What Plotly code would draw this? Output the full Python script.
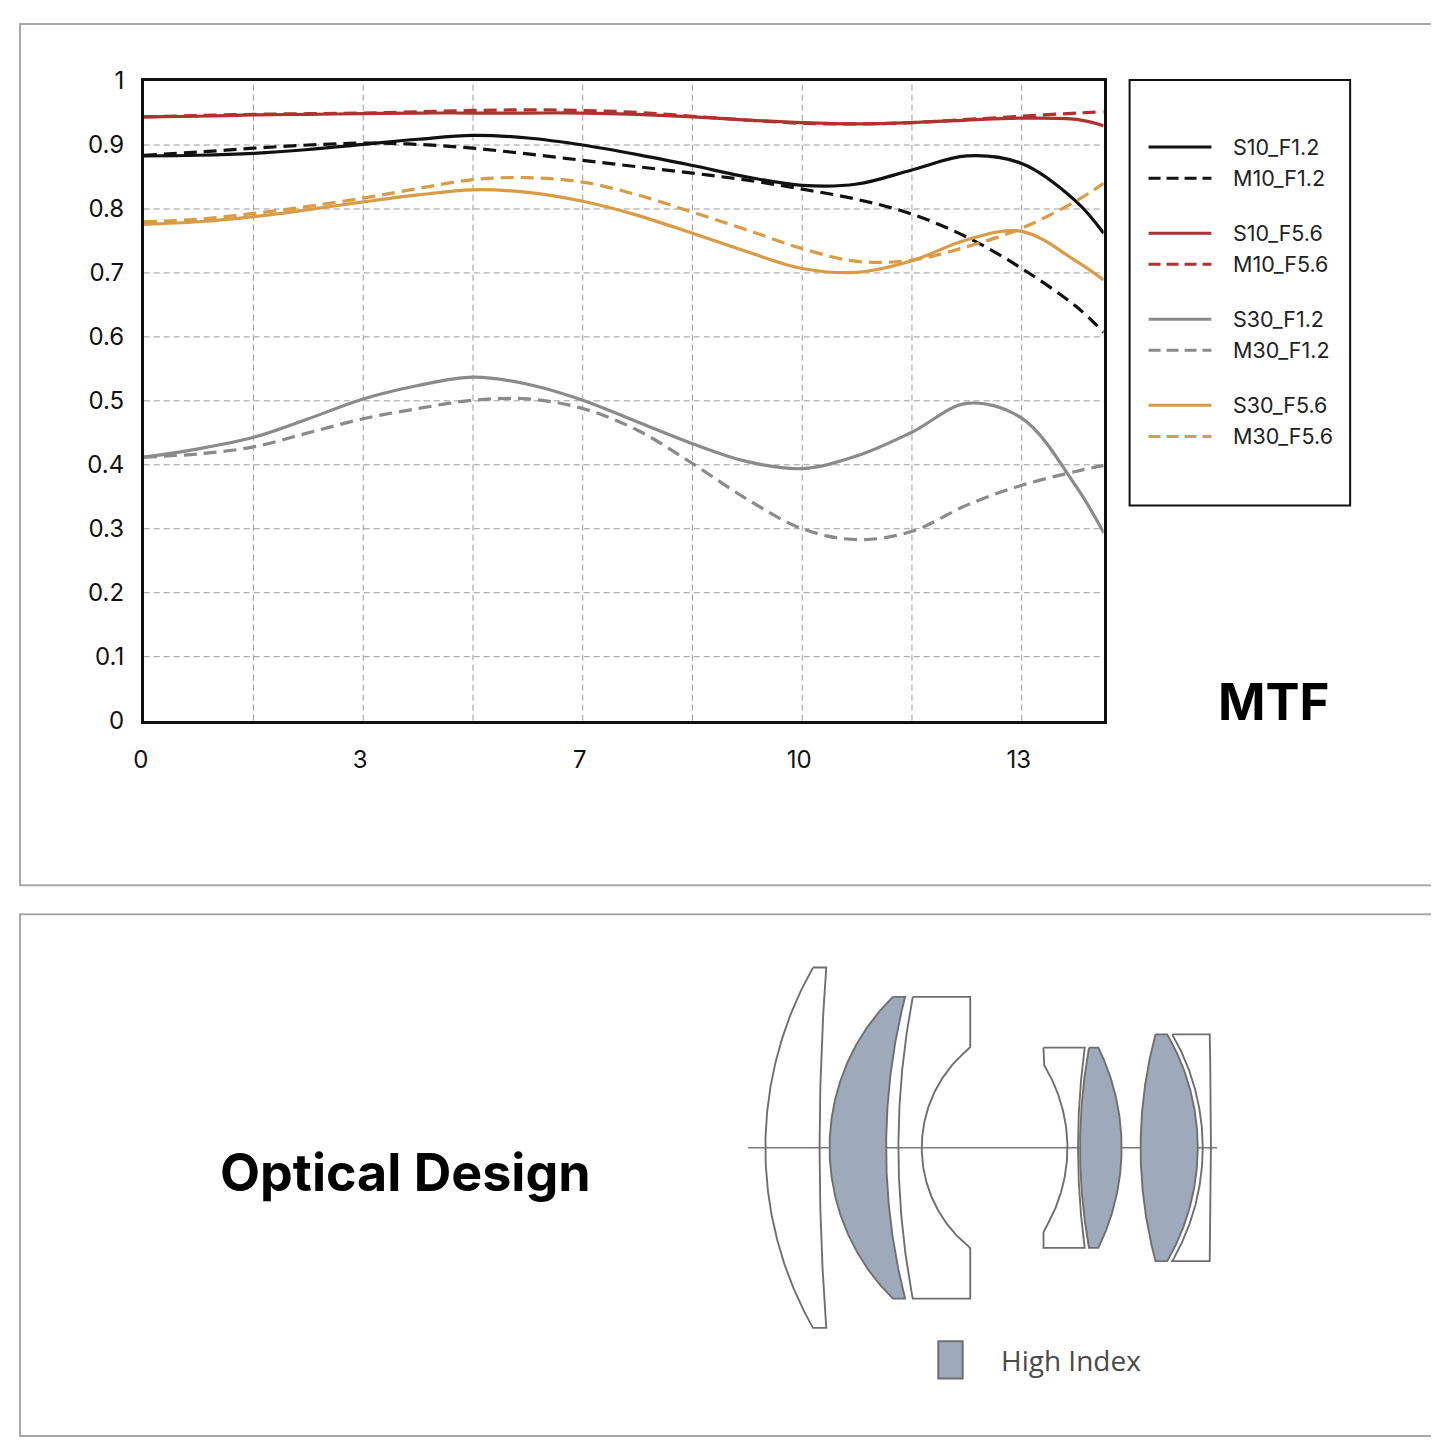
import numpy as np
import plotly.graph_objects as go

# MTF data: field position (axis units, grid every 1.5) vs contrast
field = [0, 0.75, 1.5, 2.25, 3, 3.75, 4.5, 5.25, 6, 6.75, 7.5, 8.25, 9, 9.75, 10.5, 11.25, 12, 12.75, 13.12]
field_ticks = [0, 3, 6, 9, 12]
field_labels = ["0", "3", "7", "10", "13"]
mtf_ticks = [0, 0.1, 0.2, 0.3, 0.4, 0.5, 0.6, 0.7, 0.8, 0.9, 1.0]
mtf_labels = ["0", "0.1", "0.2", "0.3", "0.4", "0.5", "0.6", "0.7", "0.8", "0.9", "1"]

s10_f12 = [0.883, 0.884, 0.887, 0.893, 0.901, 0.909, 0.915, 0.911, 0.900, 0.885, 0.868, 0.850, 0.837,
           0.839, 0.861, 0.883, 0.871, 0.811, 0.762]
m10_f12 = [0.884, 0.889, 0.895, 0.900, 0.903, 0.901, 0.895, 0.886, 0.876, 0.866, 0.856, 0.845, 0.831,
           0.815, 0.792, 0.756, 0.707, 0.647, 0.607]
s10_f56 = [0.944, 0.945, 0.947, 0.948, 0.949, 0.950, 0.950, 0.950, 0.950, 0.948, 0.944, 0.939, 0.935,
           0.933, 0.935, 0.939, 0.942, 0.940, 0.930]
m10_f56 = [0.944, 0.946, 0.948, 0.949, 0.950, 0.952, 0.954, 0.955, 0.954, 0.951, 0.945, 0.939, 0.934,
           0.933, 0.935, 0.940, 0.945, 0.950, 0.952]
s30_f12 = [0.412, 0.425, 0.443, 0.472, 0.503, 0.524, 0.537, 0.526, 0.501, 0.467, 0.433, 0.405, 0.394,
           0.414, 0.451, 0.496, 0.473, 0.365, 0.294]
m30_f12 = [0.412, 0.417, 0.428, 0.450, 0.472, 0.488, 0.501, 0.503, 0.488, 0.454, 0.402, 0.346, 0.300,
           0.283, 0.296, 0.337, 0.368, 0.390, 0.399]
s30_f56 = [0.776, 0.780, 0.788, 0.799, 0.811, 0.822, 0.830, 0.826, 0.812, 0.790, 0.762, 0.733, 0.707,
           0.701, 0.719, 0.752, 0.765, 0.718, 0.689]
m30_f56 = [0.780, 0.784, 0.793, 0.804, 0.817, 0.832, 0.846, 0.849, 0.842, 0.822, 0.795, 0.767, 0.738,
           0.718, 0.720, 0.741, 0.770, 0.813, 0.840]

# lens elements: (left vertex, left edge, left aperture), (right vertex, right edge, right aperture), half height, high index
lens_left = [(764.0, 811.7, 180.0), (828.3, 891.7, 150.7), (897.3, 911.7, 150.7), (1066.7, 1042.7, 83.4),
             (1079.3, 1088.3, 100.0), (1140.0, 1155.0, 113.3), (1202.3, 1171.7, 113.3)]
lens_right = [(818.3, 825.0, 180.0), (885.0, 904.0, 150.7), (920.7, 969.3, 100.0), (1077.3, 1084.0, 100.0),
              (1121.0, 1097.7, 100.0), (1197.3, 1166.7, 113.3), (1210.5, 1209.3, 113.3)]
lens_height = [180.0, 150.7, 150.7, 100.0, 100.0, 113.3, 113.3]
lens_high_index = [False, True, False, False, True, True, False]

W, H = 1439, 1443
# the page shows up shifted/scaled a little in the snapshot, so layout positions
# are given in target pixels and mapped back through this correction
OX, SX = 16.0, 0.9945
OY, SY = 23.0, 0.979

BLACK = "#111111"
RED = "#b0312e"
GREY = "#8a8a8a"
ORANGE = "#d99b45"
GLASS = "#9ea9b9"
OUTLINE = "#6f6f6f"


def fx(x):
    """target pixel x -> paper fraction"""
    return min(max((x - OX) / SX / W, 0.0007), 0.9993)


def fy(y):
    """target pixel y (from top) -> paper fraction"""
    return min(max(1 - (y - OY) / SY / H, 0.0007), 0.9993)


def surface(vertex, edge, aperture, ys):
    """x of a spherical surface (with flat step outside its aperture) for heights ys."""
    d = edge - vertex
    s = abs(d)
    xs = []
    for y in ys:
        if abs(y) >= aperture:
            xs.append(edge)
        elif s < 1e-6:
            xs.append(vertex)
        else:
            r = (aperture ** 2 + s ** 2) / (2 * s)
            xs.append(vertex + d * (r - np.sqrt(r ** 2 - y ** 2)) / s)
    return xs


fig = go.Figure()

series = [
    ("S10_F1.2", s10_f12, BLACK, "solid"),
    ("M10_F1.2", m10_f12, BLACK, "dash"),
    ("S10_F5.6", s10_f56, RED, "solid"),
    ("M10_F5.6", m10_f56, RED, "dash"),
    ("S30_F1.2", s30_f12, GREY, "solid"),
    ("M30_F1.2", m30_f12, GREY, "dash"),
    ("S30_F5.6", s30_f56, ORANGE, "solid"),
    ("M30_F5.6", m30_f56, ORANGE, "dash"),
]
for name, vals, col, dash in series:
    fig.add_trace(go.Scatter(x=field, y=vals, name=name, mode="lines", showlegend=False,
                             line=dict(color=col, width=3.2, dash="13px,7px" if dash == "dash" else "solid",
                                       shape="spline", smoothing=1.0)))

# optical axis
fig.add_trace(go.Scatter(x=[746.7, 1216.7], y=[0, 0], mode="lines", xaxis="x2", yaxis="y2",
                         line=dict(color="#7a7a7a", width=1.5), showlegend=False, hoverinfo="skip"))

# lens elements
for lv, rv, h, hi in zip(lens_left, lens_right, lens_height, lens_high_index):
    ys_down = np.linspace(h, -h, 181)
    xl = surface(lv[0], lv[1], lv[2], ys_down)
    xr = surface(rv[0], rv[1], rv[2], ys_down[::-1])
    xs = list(xl) + list(xr) + [xl[0]]
    ys = list(ys_down) + list(ys_down[::-1]) + [ys_down[0]]
    fig.add_trace(go.Scatter(x=xs, y=ys, mode="lines", fill="toself", xaxis="x2", yaxis="y2",
                             fillcolor=GLASS if hi else "rgba(255,255,255,0)",
                             line=dict(color=OUTLINE, width=1.9), showlegend=False, hoverinfo="skip"))

shapes = [
    # panel frames
    dict(type="rect", xref="paper", yref="paper", x0=fx(4), x1=fx(1436), y0=fy(884.5), y1=fy(3),
         line=dict(color="#a8a8a8", width=2)),
    dict(type="rect", xref="paper", yref="paper", x0=fx(3), x1=fx(1436), y0=fy(1440), y1=fy(913.5),
         line=dict(color="#a8a8a8", width=2)),
    # legend box
    dict(type="rect", xref="paper", yref="paper", x0=fx(1129), x1=fx(1350), y0=fy(505), y1=fy(80),
         line=dict(color=BLACK, width=2)),
    # high index swatch
    dict(type="rect", xref="x2", yref="y2", x0=937.3, x1=961.7, y0=-193.3, y1=-230.6,
         fillcolor=GLASS, line=dict(color=OUTLINE, width=2)),
]

annotations = [
    dict(text="<b>MTF</b>", x=fx(1274), y=fy(701), xref="paper", yref="paper", showarrow=False,
         font=dict(family="Inter", size=51, color="#000000"), xanchor="center", yanchor="middle"),
    dict(text="<b>Optical Design</b>", x=fx(403), y=fy(1171), xref="paper", yref="paper", showarrow=False,
         font=dict(family="Inter", size=52, color="#000000"), xanchor="center", yanchor="middle"),
    dict(text="High Index", x=998, y=-212, xref="x2", yref="y2", showarrow=False,
         font=dict(family="Open Sans", size=28, color="#4a4a4a"), xanchor="left", yanchor="middle"),
]

# legend drawn by hand: pairs of entries, a gap between pairs
for i, (name, vals, col, dash) in enumerate(series):
    ly = 147 + 86 * (i // 2) + 31 * (i % 2)
    shapes.append(dict(type="line", xref="paper", yref="paper", x0=fx(1148), x1=fx(1211), y0=fy(ly), y1=fy(ly),
                       line=dict(color=col, width=3, dash="12px,6px" if dash == "dash" else "solid")))
    annotations.append(dict(text=name, x=fx(1231), y=fy(ly), xref="paper", yref="paper", showarrow=False,
                            font=dict(family="Inter", size=21.5, color="#222222"), xanchor="left", yanchor="middle"))

fig.update_layout(
    width=W, height=H,
    margin=dict(l=0, r=0, t=0, b=0),
    paper_bgcolor="white", plot_bgcolor="white",
    font=dict(family="Inter", color="#111111"),
    showlegend=False,
    xaxis=dict(domain=[fx(141), fx(1103)], range=[0, 13.12], anchor="y",
               tickvals=field_ticks, ticktext=field_labels, tickfont=dict(size=24),
               showgrid=False, zeroline=False, showline=True, mirror=True, linecolor=BLACK, linewidth=2.5,
               ticks="", ticklabelstandoff=16, ticklabelshift=-3),
    yaxis=dict(domain=[fy(720), fy(81)], range=[0, 1], anchor="x",
               tickvals=mtf_ticks, ticktext=mtf_labels, tickfont=dict(size=24),
               showgrid=False, zeroline=False, showline=True, mirror=True, linecolor=BLACK, linewidth=2.5,
               ticks="", ticklabelstandoff=12),
    xaxis2=dict(domain=[fx(740), fx(1240)], range=[740, 1240], anchor="y2", visible=False),
    yaxis2=dict(domain=[fy(1406.7), fy(886.7)], range=[-260, 260], anchor="x2", visible=False),
    shapes=shapes,
    annotations=annotations,
)

# dashed grid lines (steps of 1.5 along field, 0.1 along contrast)
for gx in np.arange(1.5, 13.0, 1.5):
    fig.add_shape(type="line", xref="x", yref="y", x0=gx, x1=gx, y0=0, y1=1, layer="below",
                  line=dict(color="#9a9a9a", width=1, dash="6px,4px"))
for gy in mtf_ticks[1:-1]:
    fig.add_shape(type="line", xref="x", yref="y", x0=0, x1=13.12, y0=gy, y1=gy, layer="below",
                  line=dict(color="#9a9a9a", width=1, dash="6px,4px"))

fig.write_html("out.html")
